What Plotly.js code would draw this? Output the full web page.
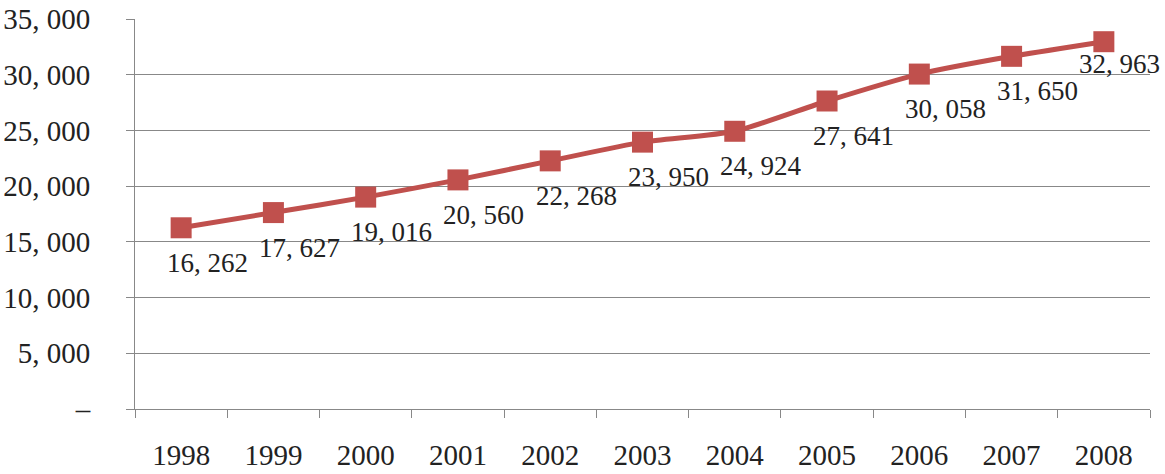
<!DOCTYPE html>
<html><head><meta charset="utf-8">
<script src="https://cdn.plot.ly/plotly-3.0.1.min.js"></script>
<style>html,body{margin:0;padding:0;background:#fff}#chart{width:1165px;height:474px}</style>
</head><body><div id="chart"></div>
<script>
const years = ["1998","1999","2000","2001","2002","2003","2004","2005","2006","2007","2008"];
const values = [16262,17627,19016,20560,22268,23950,24924,27641,30058,31650,32963];
const yTickVals = [0,5000,10000,15000,20000,25000,30000,35000];
const yTickText = ["–","5, 000","10, 000","15, 000","20, 000","25, 000","30, 000","35, 000"];

function fmt(v){ const s = String(v); return s.slice(0, s.length-3) + ", " + s.slice(-3); }

const FONT = "Liberation Serif, DejaVu Serif, serif";
const RED = "#C0504D";

const trace = {
  x: years, y: values, type: "scatter", mode: "lines+markers",
  line: {color: RED, width: 5, shape: "spline", smoothing: 0.6},
  marker: {symbol: "square", size: 21, color: RED},
  hoverinfo: "skip"
};

const last = years.length - 1;
const annotations = years.map((yr, i) => ({
  x: i, y: values[i], xref: "x", yref: "y",
  text: fmt(values[i]), showarrow: false,
  xanchor: i === last ? "right" : "center",
  xshift: i === last ? 58 : 26, yshift: i === last ? -22 : -35,
  font: {family: FONT, size: 27, color: "#222"}
}));

const layout = {
  width: 1165, height: 474,
  margin: {l: 135, r: 15, t: 19, b: 65},
  paper_bgcolor: "#fff", plot_bgcolor: "#fff",
  showlegend: false,
  xaxis: {
    type: "category", range: [-0.5, 10.5],
    showline: true, linecolor: "#888", linewidth: 1,
    ticks: "outside", tickson: "boundaries", ticklen: 8, tickcolor: "#888",
    showgrid: false, zeroline: false,
    ticklabelstandoff: 20,
    tickfont: {family: FONT, size: 29, color: "#222"}
  },
  yaxis: {
    range: [0, 35000], tickvals: yTickVals, ticktext: yTickText,
    showline: true, linecolor: "#888", linewidth: 1,
    ticks: "outside", ticklen: 8, tickcolor: "#888",
    showgrid: true, gridcolor: "#888", gridwidth: 1, zeroline: false,
    ticklabelstandoff: 30,
    tickfont: {family: FONT, size: 29, color: "#222"}
  },
  annotations: annotations
};

Plotly.newPlot("chart", [trace], layout, {staticPlot: true, displayModeBar: false});
</script>
</body></html>
